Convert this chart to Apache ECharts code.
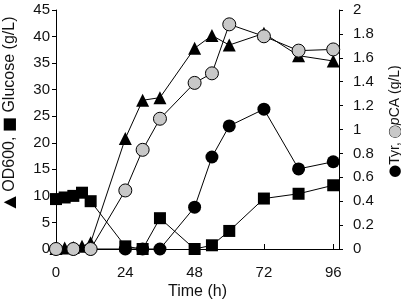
<!DOCTYPE html>
<html>
<head>
<meta charset="utf-8">
<script src="https://cdn.jsdelivr.net/npm/echarts@6/dist/echarts.min.js"></script>
<style>
  html, body { margin: 0; padding: 0; background: #fff; }
  #chart { width: 401px; height: 305px; }
</style>
</head>
<body>
<div id="chart"></div>
<script>
    // time points (h) and values
    var odTime = [0, 3, 6, 9, 12, 24, 30, 36, 48, 54, 60, 72, 84, 96];
    var odValues = [0.1, 0.2, 0.3, 0.5, 1.2, 20.8, 28.0, 28.5, 37.8, 40.2, 38.4, 40.6, 36.4, 35.4];

    var glcTime = [0, 3, 6, 9, 12, 24, 30, 36, 48, 54, 60, 72, 84, 96];
    var glcValues = [9.4, 9.7, 10.0, 10.6, 9.0, 0.5, 0.0, 5.8, 0.0, 0.7, 3.4, 9.5, 10.4, 12.0];

    var tyrTime = [0, 6, 12, 24, 30, 36, 48, 54, 60, 72, 84, 96];
    var tyrValues = [0, 0, 0, 0, 0, 0, 0.35, 0.77, 1.03, 1.17, 0.67, 0.73];

    var pcaTime = [0, 6, 12, 24, 30, 36, 48, 54, 60, 72, 84, 96];
    var pcaValues = [0, 0, 0, 0.49, 0.83, 1.09, 1.39, 1.47, 1.88, 1.78, 1.66, 1.67];

    var xTicks = [0, 24, 48, 72, 96];

    function pairs(xs, ys) {
        var out = [];
        for (var i = 0; i < xs.length; i++) {
            out.push([xs[i], ys[i]]);
        }
        return out;
    }

    var font = 'Liberation Sans';
    var chart = echarts.init(document.getElementById('chart'));

    var option = {
        animation: false,
        backgroundColor: '#fff',
        grid: {
            left: 56,
            right: 62,
            top: 10,
            bottom: 56,
            outerBoundsMode: 'none'
        },
        xAxis: {
            type: 'value',
            min: 0,
            max: 98,
            interval: 24,
            name: 'Time (h)',
            nameLocation: 'middle',
            nameGap: 35,
            nameMoveOverlap: false,
            nameTextStyle: { fontFamily: font, fontSize: 16, color: '#111' },
            axisLine: { lineStyle: { color: '#000', width: 1 } },
            axisTick: { inside: true, length: 5, lineStyle: { color: '#000' } },
            axisLabel: {
                fontFamily: font, fontSize: 15, color: '#111', margin: 16,
                formatter: function (v) {
                    return xTicks.indexOf(v) >= 0 ? String(v) : '';
                }
            },
            splitLine: { show: false }
        },
        yAxis: [
            {
                type: 'value',
                min: 0,
                max: 45,
                interval: 5,
                name: '{m|▲} OD600, {m|■} Glucose (g/L)',
                nameLocation: 'middle',
                nameRotate: 90,
                nameGap: 38,
                nameMoveOverlap: false,
                nameTextStyle: {
                    fontFamily: font, fontSize: 16, color: '#111',
                    padding: [0, 0, 0, 34],
                    rich: {
                        m: { fontFamily: 'DejaVu Sans', fontSize: 16, color: '#000' }
                    }
                },
                axisLine: { show: true, lineStyle: { color: '#000', width: 1 } },
                axisTick: { show: true, length: 4, lineStyle: { color: '#000' } },
                axisLabel: { fontFamily: font, fontSize: 15, color: '#111', margin: 6 },
                splitLine: { show: false }
            },
            {
                type: 'value',
                min: 0,
                max: 2,
                interval: 0.2,
                position: 'right',
                name: '{b|●}Tyr, {g|●}{i|p}CA (g/L)',
                nameLocation: 'middle',
                nameRotate: 90,
                nameGap: 49,
                nameMoveOverlap: false,
                nameTextStyle: {
                    fontFamily: font, fontSize: 14, color: '#111',
                    padding: [0, 0, 0, 16],
                    rich: {
                        b: { fontFamily: 'DejaVu Sans', fontSize: 15, color: '#000' },
                        g: { fontFamily: 'DejaVu Sans', fontSize: 15, color: '#c8c8c8', textBorderColor: '#000', textBorderWidth: 1 },
                        i: { fontFamily: font, fontSize: 14, fontStyle: 'italic', color: '#111' }
                    }
                },
                axisLine: { show: true, lineStyle: { color: '#000', width: 1 } },
                axisTick: { show: true, length: 4, lineStyle: { color: '#000' } },
                axisLabel: { fontFamily: font, fontSize: 15, color: '#111', margin: 14 },
                splitLine: { show: false }
            }
        ],
        series: [
            {
                name: 'OD600',
                type: 'line',
                yAxisIndex: 0,
                data: pairs(odTime, odValues),
                symbol: 'triangle',
                symbolSize: 13,
                itemStyle: { color: '#000' },
                lineStyle: { color: '#000', width: 1 }
            },
            {
                name: 'Glucose',
                type: 'line',
                yAxisIndex: 0,
                data: pairs(glcTime, glcValues),
                symbol: 'rect',
                symbolSize: 12,
                itemStyle: { color: '#000' },
                lineStyle: { color: '#000', width: 1 }
            },
            {
                name: 'Tyr',
                type: 'line',
                yAxisIndex: 1,
                data: pairs(tyrTime, tyrValues),
                symbol: 'circle',
                symbolSize: 13,
                itemStyle: { color: '#000' },
                lineStyle: { color: '#000', width: 1 }
            },
            {
                name: 'pCA',
                type: 'line',
                yAxisIndex: 1,
                data: pairs(pcaTime, pcaValues),
                symbol: 'circle',
                symbolSize: 13,
                itemStyle: { color: '#c8c8c8', borderColor: '#000', borderWidth: 1 },
                lineStyle: { color: '#000', width: 1 }
            }
        ]
    };

    chart.setOption(option);
</script>
</body>
</html>
